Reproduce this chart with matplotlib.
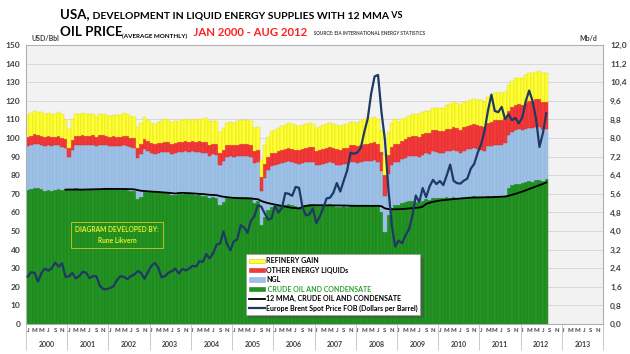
import matplotlib
matplotlib.use("Agg")
import matplotlib.pyplot as plt
import numpy as np
import pandas as pd
from matplotlib.patches import Patch
from matplotlib.lines import Line2D
from matplotlib.ticker import FixedLocator

plt.rcParams["font.family"] = ["Lato", "DejaVu Sans"]
plt.rcParams["font.weight"] = "bold"

# monthly data, Jan 2000 - Aug 2012 (Mb/d for supplies, USD/bbl for price)
crude = [
    5.76, 5.80, 5.84, 5.84, 5.80, 5.72, 5.76, 5.72, 5.76, 5.80, 5.76, 5.80,  # 2000
    5.80, 5.78, 5.84, 5.82, 5.80, 5.78, 5.80, 5.82, 5.76, 5.82, 5.84, 5.86,  # 2001
    5.80, 5.82, 5.80, 5.78, 5.80, 5.76, 5.74, 5.72, 5.36, 5.48, 5.74, 5.66,  # 2002
    5.70, 5.68, 5.70, 5.66, 5.66, 5.62, 5.54, 5.56, 5.58, 5.60, 5.62, 5.62,  # 2003
    5.58, 5.56, 5.58, 5.52, 5.50, 5.40, 5.48, 5.44, 5.12, 5.24, 5.40, 5.44,  # 2004
    5.42, 5.46, 5.48, 5.48, 5.46, 5.40, 5.22, 5.28, 4.24, 4.60, 4.92, 5.04,  # 2005
    5.08, 5.10, 5.12, 5.12, 5.14, 5.10, 5.08, 5.04, 5.10, 5.12, 5.14, 5.16,  # 2006
    5.10, 5.08, 5.10, 5.12, 5.14, 5.08, 5.04, 5.02, 5.06, 5.04, 5.10, 5.12,  # 2007
    5.08, 5.10, 5.12, 5.10, 5.08, 5.12, 5.06, 4.80, 3.96, 4.70, 4.98, 5.10,  # 2008
    5.12, 5.20, 5.24, 5.28, 5.28, 5.24, 5.20, 5.28, 5.36, 5.32, 5.44, 5.44,  # 2009
    5.44, 5.40, 5.46, 5.44, 5.46, 5.40, 5.36, 5.44, 5.48, 5.46, 5.50, 5.48,  # 2010
    5.46, 5.44, 5.50, 5.48, 5.52, 5.50, 5.46, 5.52, 5.84, 5.96, 6.02, 6.04,  # 2011
    6.06, 6.10, 6.14, 6.12, 6.18, 6.20, 6.16, 6.22,                          # 2012
]

ngl = [
    1.90, 1.88, 1.92, 1.90, 1.90, 1.92, 1.94, 1.94, 1.92, 1.90, 1.86, 1.76,
    1.40, 1.72, 1.86, 1.88, 1.92, 1.90, 1.92, 1.90, 1.88, 1.88, 1.86, 1.84,
    1.86, 1.84, 1.84, 1.86, 1.88, 1.90, 1.88, 1.86, 1.80, 1.82, 1.80, 1.78,
    1.66, 1.62, 1.66, 1.72, 1.74, 1.76, 1.78, 1.80, 1.80, 1.78, 1.80, 1.78,
    1.84, 1.82, 1.80, 1.84, 1.86, 1.84, 1.82, 1.82, 1.74, 1.78, 1.80, 1.78,
    1.76, 1.76, 1.74, 1.76, 1.76, 1.78, 1.72, 1.70, 1.48, 1.70, 1.70, 1.76,
    1.74, 1.78, 1.82, 1.84, 1.86, 1.86, 1.86, 1.86, 1.84, 1.86, 1.84, 1.82,
    1.74, 1.78, 1.80, 1.82, 1.84, 1.84, 1.82, 1.80, 1.82, 1.84, 1.86, 1.84,
    1.84, 1.86, 1.88, 1.90, 1.92, 1.92, 1.90, 1.76, 1.56, 1.74, 1.84, 1.86,
    1.84, 1.88, 1.90, 1.94, 1.96, 1.98, 2.00, 2.00, 1.98, 2.00, 1.98, 1.96,
    1.92, 1.94, 1.98, 2.00, 2.02, 2.02, 2.00, 2.02, 2.04, 2.06, 2.06, 2.04,
    2.04, 2.02, 2.14, 2.18, 2.20, 2.22, 2.24, 2.26, 2.28, 2.30, 2.32, 2.34,
    2.28, 2.30, 2.30, 2.32, 2.30, 2.26, 2.22, 2.18,
]

other = [
    0.40, 0.42, 0.40, 0.38, 0.40, 0.42, 0.40, 0.40, 0.38, 0.40, 0.40, 0.38,
    0.37, 0.40, 0.40, 0.38, 0.40, 0.40, 0.38, 0.40, 0.40, 0.42, 0.42, 0.40,
    0.40, 0.42, 0.42, 0.40, 0.42, 0.42, 0.40, 0.42, 0.42, 0.44, 0.42, 0.42,
    0.42, 0.44, 0.44, 0.42, 0.44, 0.44, 0.42, 0.44, 0.44, 0.46, 0.46, 0.44,
    0.46, 0.46, 0.48, 0.46, 0.48, 0.48, 0.46, 0.48, 0.50, 0.48, 0.50, 0.50,
    0.50, 0.50, 0.52, 0.50, 0.52, 0.52, 0.50, 0.52, 0.60, 0.58, 0.56, 0.54,
    0.54, 0.56, 0.56, 0.56, 0.58, 0.58, 0.56, 0.58, 0.60, 0.60, 0.62, 0.62,
    0.60, 0.62, 0.62, 0.64, 0.64, 0.66, 0.66, 0.68, 0.68, 0.70, 0.72, 0.72,
    0.72, 0.74, 0.76, 0.76, 0.78, 0.80, 0.80, 0.82, 0.88, 0.82, 0.80, 0.80,
    0.80, 0.80, 0.82, 0.82, 0.84, 0.86, 0.86, 0.88, 0.88, 0.90, 0.92, 0.94,
    0.94, 0.94, 0.96, 0.96, 0.98, 1.00, 0.98, 1.00, 1.00, 1.02, 1.04, 1.04,
    1.02, 1.00, 1.02, 1.04, 1.04, 1.06, 1.06, 1.06, 1.04, 1.06, 1.08, 1.10,
    1.10, 1.12, 1.14, 1.16, 1.18, 1.20, 1.18, 1.16,
]

refinery_gain = [
    0.92, 0.98, 1.02, 1.00, 1.00, 0.98, 0.96, 0.96, 0.98, 1.00, 1.00, 0.84,
    0.83, 0.90, 0.92, 0.94, 0.96, 0.94, 0.92, 0.90, 0.88, 0.90, 0.92, 0.90,
    0.88, 0.90, 0.92, 0.94, 0.96, 0.96, 0.94, 0.92, 0.90, 0.92, 0.94, 0.92,
    0.86, 0.88, 0.90, 0.92, 0.96, 0.96, 0.94, 0.94, 0.92, 0.92, 0.94, 0.92,
    0.92, 0.94, 0.96, 0.98, 1.00, 1.00, 0.98, 0.98, 0.88, 0.92, 0.96, 0.98,
    0.98, 1.00, 1.02, 1.04, 1.04, 1.02, 1.00, 0.98, 0.72, 0.80, 0.88, 0.94,
    0.98, 1.00, 1.02, 1.04, 1.06, 1.06, 1.04, 1.04, 1.02, 1.02, 1.04, 1.02,
    0.98, 1.00, 1.02, 1.02, 1.04, 1.04, 1.02, 1.00, 1.00, 1.02, 1.00, 1.02,
    1.02, 1.04, 1.06, 1.08, 1.08, 1.06, 1.06, 0.98, 0.88, 1.00, 1.04, 1.06,
    0.94, 0.92, 0.90, 0.92, 0.94, 0.96, 0.98, 0.96, 0.96, 0.94, 0.96, 0.96,
    1.00, 1.02, 1.04, 1.06, 1.08, 1.08, 1.06, 1.08, 1.06, 1.08, 1.06, 1.08,
    1.10, 1.08, 1.12, 1.14, 1.16, 1.18, 1.16, 1.14, 1.10, 1.12, 1.14, 1.12,
    1.16, 1.18, 1.20, 1.18, 1.20, 1.22, 1.24, 1.22,
]

brent = [
    25.5, 27.8, 27.5, 22.8, 27.4, 29.8, 28.7, 30.0, 33.0, 30.9, 32.6, 25.3,
    25.6, 27.5, 24.5, 25.7, 28.1, 27.6, 24.6, 25.7, 25.7, 20.5, 18.8, 18.7,
    19.4, 20.3, 23.7, 25.7, 25.4, 24.1, 25.7, 26.6, 28.4, 27.5, 24.3, 28.0,
    31.2, 32.8, 30.3, 25.0, 25.8, 27.6, 28.4, 29.8, 27.1, 29.6, 28.8, 29.8,
    31.3, 30.9, 33.8, 33.4, 37.6, 35.2, 38.2, 42.7, 43.2, 49.8, 43.1, 39.6,
    44.5, 45.5, 53.1, 51.9, 49.0, 55.6, 57.9, 63.9, 63.1, 59.5, 56.1, 56.8,
    63.6, 59.9, 62.3, 70.4, 70.0, 68.9, 73.7, 73.2, 62.8, 58.4, 58.9, 62.2,
    54.3, 57.6, 62.1, 67.5, 67.9, 70.6, 75.8, 71.2, 77.0, 82.5, 92.1, 91.5,
    92.2, 94.8, 103.3, 110.4, 123.9, 133.1, 133.9, 113.9, 99.1, 72.8, 53.2, 41.6,
    44.9, 43.4, 47.7, 50.9, 58.1, 69.1, 65.4, 73.1, 68.2, 73.9, 77.5, 75.2,
    76.9, 74.7, 79.9, 85.7, 77.0, 75.7, 75.5, 77.1, 78.2, 83.5, 86.1, 92.0,
    96.5, 103.7, 114.6, 123.3, 114.5, 113.9, 116.7, 110.2, 112.8, 109.6, 110.8, 107.9,
    111.0, 119.7, 125.5, 119.8, 110.3, 95.2, 102.6, 113.4,
]

years = list(range(2000, 2014))
month_letters = ["J", "F", "M", "A", "M", "J", "J", "A", "S", "O", "N", "D"]

# 12 month moving average of crude
mma = pd.Series(crude).rolling(12).mean()

n = len(crude)
x = np.arange(n)
crude_a = np.array(crude)
ngl_a = np.array(ngl)
other_a = np.array(other)
rg_a = np.array(refinery_gain)

fig = plt.figure(figsize=(6.3, 3.54), dpi=100)
ax = fig.add_axes([26 / 630, 30 / 354, 577 / 630, 279 / 354])
ax2 = ax.twinx()  # price axis, drawn on top
ax.set_facecolor("#f2f2f2")

c_green, c_blue, c_red, c_yellow = "#239423", "#9dc0e6", "#f23a3a", "#ffff33"
ax.bar(x, crude_a, width=1.0, color=c_green, edgecolor="#1c7a1c", linewidth=0.3, zorder=2)
ax.bar(x, ngl_a, bottom=crude_a, width=1.0, color=c_blue, edgecolor="#8fb3db", linewidth=0.3, zorder=2)
ax.bar(x, other_a, bottom=crude_a + ngl_a, width=1.0, color=c_red, edgecolor="#d82a2a", linewidth=0.3, zorder=2)
ax.bar(x, rg_a, bottom=crude_a + ngl_a + other_a, width=1.0, color=c_yellow,
       edgecolor="#d8d820", linewidth=0.3, zorder=2)
ax.plot(x, mma, color="black", lw=1.3, zorder=3)

ax.set_ylim(0, 12)
ax.set_xlim(-0.5, len(years) * 12 - 0.5)
rticks = np.arange(0, 12.01, 0.8)
ax.set_yticks(rticks)
ax.set_yticklabels([f"{v:.1f}".replace(".", ",") for v in rticks])
ax.yaxis.tick_right()
ax.tick_params(axis="y", left=False, labelleft=False, right=False, labelright=True,
               length=0, pad=5, labelsize=6, labelcolor="#404040")
ax.grid(axis="y", color="#d4d4d4", lw=0.6, zorder=0)
ax.set_axisbelow(True)
for s in ax.spines.values():
    s.set_color("#b0b0b0")
    s.set_linewidth(0.8)

# month letters + year separators
month_pos = [y * 12 + m for y in range(len(years)) for m in range(0, 12, 2)]
ax.set_xticks(month_pos)
ax.set_xticklabels([month_letters[p % 12] for p in month_pos])
ax.tick_params(axis="x", length=0, pad=3, labelsize=4.3, labelcolor="#404040")
ax.xaxis.set_minor_locator(FixedLocator([12 * k - 0.5 for k in range(len(years) + 1)]))
ax.tick_params(axis="x", which="minor", length=19, width=0.6, color="#c0c0c0")
for i, yr in enumerate(years):
    ax.text(i * 12 + 5.5, -0.075, str(yr), transform=ax.get_xaxis_transform(),
            ha="center", va="center", fontsize=5, color="#404040")

# oil price on the left scale
ax2.plot(np.arange(len(brent)), brent, color="#1f3864", lw=1.6, zorder=4)
ax2.set_ylim(0, 150)
ax2.set_yticks(range(0, 151, 10))
ax2.yaxis.tick_left()
ax2.tick_params(axis="y", left=False, right=False, labelleft=True, labelright=False,
                length=0, pad=4, labelsize=6, labelcolor="#404040")
for s in ax2.spines.values():
    s.set_visible(False)

fig.text(32 / 630, 1 - 41 / 354, "USD/Bbl", fontsize=5, color="#404040", va="baseline")
fig.text(597 / 630, 1 - 41 / 354, "Mb/d", fontsize=5, color="#404040", va="baseline", ha="right")

ax2.text(0.158, 0.319, "DIAGRAM DEVELOPED BY:\nRune Likvern", transform=ax2.transAxes,
         ha="center", va="center", fontsize=4.8, color="#eeee22", linespacing=1.6,
         bbox=dict(boxstyle="square,pad=0.6", fc="none", ec="#cccc22", lw=0.6))

handles = [
    Patch(facecolor=c_yellow, edgecolor="#c8c820", lw=0.4),
    Patch(facecolor=c_red, edgecolor="#d82a2a", lw=0.4),
    Patch(facecolor=c_blue, edgecolor="#8fb3db", lw=0.4),
    Patch(facecolor=c_green, edgecolor="#1c7a1c", lw=0.4),
    Line2D([], [], color="black", lw=1.3),
    Line2D([], [], color="#1f3864", lw=1.6),
]
labels = ["REFINERY GAIN", "OTHER ENERGY LIQUIDs", "NGL", " CRUDE OIL AND CONDENSATE",
          "12 MMA, CRUDE OIL AND CONDENSATE", "Europe Brent Spot Price FOB (Dollars per Barrel)"]
leg = ax2.legend(handles, labels, loc="lower left", bbox_to_anchor=(243 / 630, 36 / 354),
                 bbox_transform=fig.transFigure, fontsize=5, frameon=True, fancybox=False,
                 shadow=True, edgecolor="#999999", handlelength=2.2, handleheight=0.6,
                 labelspacing=0.35, borderpad=0.4, handletextpad=0.2)
leg.get_frame().set_linewidth(0.5)
leg.get_texts()[3].set_color("#2ca02c")

# title built from pieces
def put_pieces(px, py, pieces):
    fig.canvas.draw()
    r = fig.canvas.get_renderer()
    cur = px / 630
    for txt, size, color, dy in pieces:
        t = fig.text(cur, 1 - (py + dy) / 354, txt, fontsize=size, color=color,
                     fontweight="bold", va="baseline")
        cur += t.get_window_extent(renderer=r).width / fig.bbox.width

put_pieces(60, 18, [("USA,", 9.5, "black", 0),
                    (" DEVELOPMENT IN LIQUID ENERGY SUPPLIES WITH 12 MMA", 7.5, "black", 0),
                    (" VS", 6.5, "black", 0)])
put_pieces(60, 36, [("OIL PRICE", 9.6, "black", 0),
                    ("(AVERAGE MONTHLY)", 4.5, "black", 2),
                    ("  JAN 2000 - AUG 2012", 8.2, "#ff2020", 0),
                    ("      SOURCE: EIA INTERNATIONAL ENERGY STATISTICS", 3.3, "#404040", -1)])

fig.savefig("out.png", dpi=100)
